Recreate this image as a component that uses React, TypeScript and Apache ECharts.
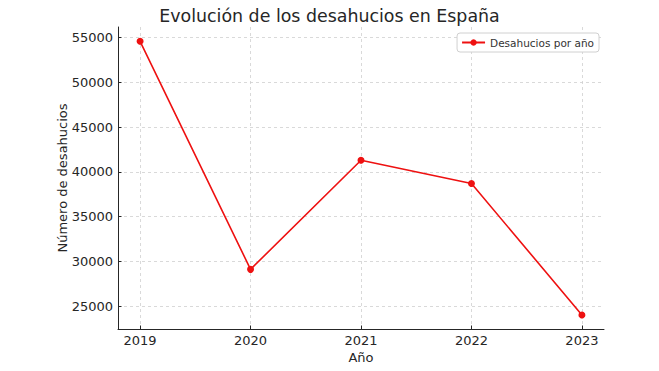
import React, { useEffect, useRef } from "react";
import * as echarts from "echarts";

const years = [2019, 2020, 2021, 2022, 2023];
const desahucios = [54600, 29100, 41300, 38700, 24000];
const yTicks = [25000, 30000, 35000, 40000, 45000, 50000, 55000];
const seriesName = "Desahucios por año";
const title = "Evolución de los desahucios en España";

const FONT = "DejaVu Sans";

export default function App() {
  const ref = useRef<HTMLDivElement>(null);
  useEffect(() => {
    document.body.style.margin = "0";
    const chart = echarts.init(ref.current!, null, { renderer: "svg" });
    chart.setOption({
      animation: false,
      backgroundColor: "#ffffff",
      textStyle: { fontFamily: FONT },
      title: {
        text: title,
        left: "center",
        top: 2,
        textStyle: { fontFamily: FONT, fontSize: 17.4, fontWeight: "normal", color: "#262626" },
      },
      legend: {
        data: [seriesName],
        right: 60,
        top: 33,
        orient: "vertical",
        borderColor: "#d0d0d0",
        borderWidth: 1,
        borderRadius: 3,
        backgroundColor: "#ffffff",
        padding: [4, 5, 4, 4],
        itemWidth: 23,
        itemHeight: 8,
        itemGap: 4,
        textStyle: { fontFamily: FONT, fontSize: 10.5, color: "#333" },
      },
      grid: { left: 118, right: 55, top: 27, bottom: 42, containLabel: false },
      xAxis: {
        type: "value",
        min: 2018.8,
        max: 2023.2,
        name: "Año",
        nameLocation: "middle",
        nameGap: 22,
        nameMoveOverlap: false,
        nameTextStyle: { fontFamily: FONT, fontSize: 13, color: "#262626" },
        axisLine: { show: true, onZero: false, lineStyle: { color: "#262626", width: 1 } },
        axisTick: { show: true, inside: true, length: 3.5, customValues: years, lineStyle: { color: "#262626" } },
        axisLabel: {
          customValues: years,
          fontFamily: FONT,
          fontSize: 13,
          color: "#262626",
          margin: 5,
          formatter: (v: number) => String(Math.round(v)),
        },
        splitLine: { show: true, lineStyle: { color: "#cfcfcf", type: [3, 3], width: 0.8 } },
      },
      yAxis: {
        type: "value",
        min: 22430,
        max: 56200,
        name: "Número de desahucios",
        nameLocation: "middle",
        nameGap: 49,
        nameMoveOverlap: false,
        nameRotate: 90,
        nameTextStyle: { fontFamily: FONT, fontSize: 13, color: "#262626" },
        axisLine: { show: true, onZero: false, lineStyle: { color: "#262626", width: 1 } },
        axisTick: { show: true, inside: true, length: 3.5, customValues: yTicks, lineStyle: { color: "#262626" } },
        axisLabel: {
          customValues: yTicks,
          fontFamily: FONT,
          fontSize: 13,
          color: "#262626",
          margin: 5,
          formatter: (v: number) => String(Math.round(v)),
        },
        splitLine: { show: true, lineStyle: { color: "#cfcfcf", type: [3, 3], width: 0.8 } },
      },
      series: [
        {
          name: seriesName,
          type: "line",
          data: years.map((y, i) => [y, desahucios[i]]),
          symbol: "circle",
          symbolSize: 7,
          lineStyle: { color: "#ee1111", width: 1.6 },
          itemStyle: { color: "#ee1111" },
          emphasis: { disabled: true },
        },
      ],
    });
    return () => chart.dispose();
  }, []);
  return <div ref={ref} style={{ width: 659, height: 371, position: "absolute", left: 0, top: 0 }} />;
}
